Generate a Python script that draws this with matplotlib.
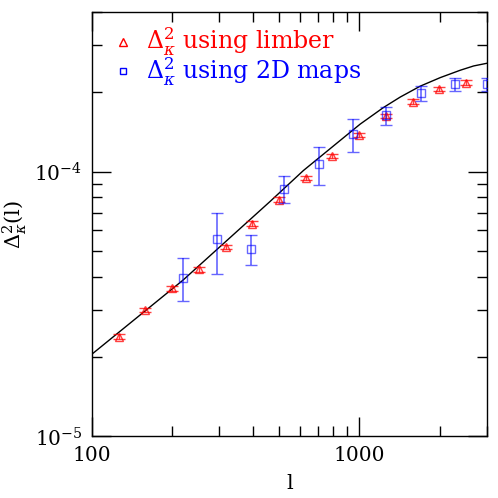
import matplotlib
matplotlib.use("Agg")
import matplotlib.pyplot as plt
from matplotlib.lines import Line2D
import numpy as np

# Limber triangles
l_limber = [126, 158, 200, 251, 316, 398, 501, 631, 794, 1000, 1259, 1585, 1995, 2512]
d_limber = [2.38e-5, 3.00e-5, 3.62e-5, 4.27e-5, 5.19e-5, 6.36e-5, 7.83e-5, 9.47e-5,
            1.146e-4, 1.374e-4, 1.62e-4, 1.837e-4, 2.047e-4, 2.166e-4]
err_limber_frac = [0.02] * 14

# 2D map squares
l_maps = [219, 293, 394, 525, 706, 944, 1262, 1702, 2276, 3006]
d_maps = [3.98e-5, 5.54e-5, 5.08e-5, 8.61e-5, 1.069e-4, 1.386e-4, 1.634e-4, 1.977e-4, 2.135e-4, 2.135e-4]
d_maps_hi = [4.70e-5, 7.00e-5, 5.74e-5, 9.58e-5, 1.234e-4, 1.585e-4, 1.755e-4, 2.105e-4, 2.25e-4, 2.25e-4]
d_maps_lo = [3.25e-5, 4.09e-5, 4.43e-5, 7.63e-5, 8.93e-5, 1.182e-4, 1.502e-4, 1.849e-4, 2.02e-4, 2.02e-4]

# Theory curve
l_curve = [100, 219, 464, 618.5, 848.8, 1008.6, 1233.5, 1424, 1692, 2011, 2390, 2681, 3006]
d_curve = [2.046e-5, 3.89e-5, 7.71e-5, 1.009e-4, 1.31e-4, 1.51e-4, 1.745e-4, 1.91e-4,
           2.10e-4, 2.262e-4, 2.412e-4, 2.503e-4, 2.562e-4]

plt.rcParams['font.family'] = ['DejaVu Serif']
plt.rcParams['mathtext.fontset'] = 'dejavuserif'

fig = plt.figure(figsize=(4.98, 4.98), dpi=100)
ax = fig.add_axes([0.1847, 0.1235, 0.7926, 0.8524])

ax.plot(l_curve, d_curve, color='black', lw=1.0, zorder=3)

dl = np.array(d_limber)
el = dl * np.array(err_limber_frac)
ax.errorbar(l_limber, d_limber, yerr=el, fmt='^', mfc='none', mec='red', ms=5.5,
            mew=1.0, ecolor='red', elinewidth=1.0, capsize=4, color='red', alpha=0.75, zorder=4)

dm = np.array(d_maps)
yerr = [dm - np.array(d_maps_lo), np.array(d_maps_hi) - dm]
ax.errorbar(l_maps, d_maps, yerr=yerr, fmt='s', mfc='none', mec='blue', ms=5.5,
            mew=1.0, ecolor='blue', elinewidth=1.2, capsize=4, color='blue', alpha=0.6, zorder=5)

ax.set_xscale('log')
ax.set_yscale('log')
ax.set_xlim(100, 3000)
ax.set_ylim(1e-5, 4e-4)

ax.set_xticks([100, 1000])
ax.set_xticklabels(['100', '1000'])
ax.set_yticks([1e-5, 1e-4])
ax.set_yticklabels([r'$10^{-5}$', r'$10^{-4}$'])

ax.tick_params(which='both', direction='in', top=True, right=True, labelsize=14.5, width=1.0)
ax.tick_params(which='major', length=14, pad=7)
ax.tick_params(which='minor', length=7)
for s in ax.spines.values():
    s.set_linewidth(1.0)

ax.set_xlabel('l', fontsize=15, labelpad=6)
ax.set_ylabel(r'$\Delta^2_\kappa$(l)', fontsize=15, labelpad=4)

handles = [Line2D([], [], ls='none', marker='^', mfc='none', mec='red', ms=5.5),
           Line2D([], [], ls='none', marker='s', mfc='none', mec='blue', ms=5)]
leg = ax.legend(handles, [r'$\Delta^2_\kappa$ using limber', r'$\Delta^2_\kappa$ using 2D maps'],
                loc='upper left', bbox_to_anchor=(0.012, 1.0), frameon=False, fontsize=17,
                handlelength=1.0, handletextpad=0.5, borderaxespad=0.2,
                labelspacing=-0.12, borderpad=0.4)
leg.get_texts()[0].set_color('red')
leg.get_texts()[1].set_color('blue')

fig.savefig('out.png', dpi=100)
